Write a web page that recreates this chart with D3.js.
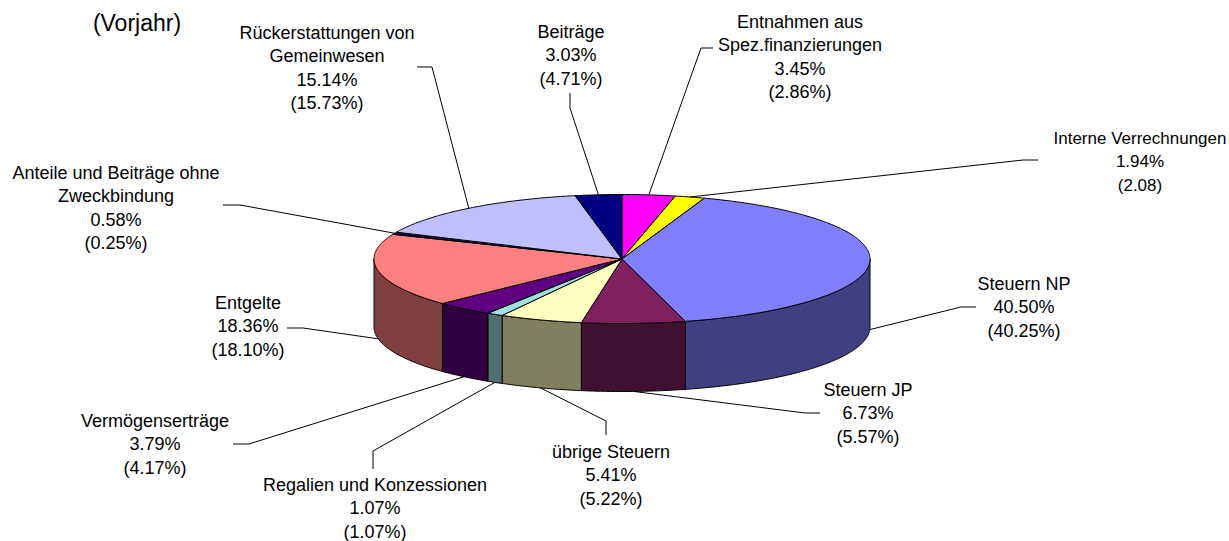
<!DOCTYPE html>
<html>
<head>
<meta charset="utf-8">
<script src="https://cdn.jsdelivr.net/npm/d3@7"></script>
<style>
body { margin: 0; background: #fff; }
svg text { font-family: "Liberation Sans", Arial, sans-serif; fill: #000; }
</style>
</head>
<body>
<svg id="chart"></svg>
<script>
let categories = ["Entnahmen aus\nSpez.finanzierungen", "Interne Verrechnungen", "Steuern NP", "Steuern JP", "übrige Steuern",
  "Regalien und Konzessionen", "Vermögenserträge", "Entgelte", "Anteile und Beiträge ohne\nZweckbindung",
  "Rückerstattungen von\nGemeinwesen", "Beiträge"]
let shares = [3.45, 1.94, 40.50, 6.73, 5.41, 1.07, 3.79, 18.36, 0.58, 15.14, 3.03]
let vorjahrLabels = ["(2.86%)", "(2.08)", "(40.25%)", "(5.57%)", "(5.22%)", "(1.07%)", "(4.17%)", "(18.10%)", "(0.25%)", "(15.73%)", "(4.71%)"]

let colors = ["#FF00FF", "#FFFF00", "#8080FF", "#802060", "#FFFFC0", "#A0E0E0", "#600080", "#FF8080", "#101050", "#C0C0FF", "#000080"]

// label centre x, first baseline y, and the two leader points next to the label
let labelLayout = [
  {x: 800, y: 28, pts: [[713, 48], [701, 48]]},
  {x: 1140, y: 144, size: 17, pts: [[1038, 160], [1023, 160]]},
  {x: 1024, y: 290, pts: [[976, 307], [961, 307]]},
  {x: 868, y: 396, pts: [[820, 413], [805, 413]]},
  {x: 611, y: 458, pts: [[606, 435], [606, 421]]},
  {x: 375, y: 491, pts: [[373, 469], [373, 451]]},
  {x: 155, y: 427, pts: [[233, 444], [249, 444]]},
  {x: 248, y: 309, pts: [[287, 328], [303, 328]]},
  {x: 116, y: 179, pts: [[223, 205], [240, 205]]},
  {x: 327, y: 39, pts: [[417, 67], [432, 67]]},
  {x: 571, y: 38, pts: [[570, 93], [570, 108]]}
]

let width = 1229
let height = 541
let cx = 622
let cy = 259
let rx = 248
let ry = 64.5
let depth = 68
let lineGap = 23.4

let svg = d3.select("#chart").attr("width", width).attr("height", height)

let proj = (a, h) => [cx + rx * Math.sin(a), cy - ry * Math.cos(a) + h]

let arcPoints = (a0, a1, h) => {
  let n = Math.max(2, Math.ceil(Math.abs(a1 - a0) / 0.01))
  return d3.range(n + 1).map(i => proj(a0 + (a1 - a0) * i / n, h))
}

let slices = d3.pie().sort(null).value(d => d)(shares)
let line = d3.line()

let darker = c => {
  let rgb = d3.rgb(c)
  return d3.rgb(rgb.r / 2, rgb.g / 2, rgb.b / 2).formatHex()
}

// sides: only the front half (pi/2 .. 3pi/2) is visible
let sides = svg.append("g")
slices.forEach((s, i) => {
  let b0 = Math.max(s.startAngle, Math.PI / 2)
  let b1 = Math.min(s.endAngle, Math.PI * 1.5)
  if (b1 <= b0) return
  let pts = arcPoints(b0, b1, 0).concat(arcPoints(b1, b0, depth))
  sides.append("path")
    .attr("d", line(pts) + "Z")
    .attr("fill", darker(colors[i]))
    .attr("stroke", "#000")
    .attr("stroke-width", 1)
    .attr("stroke-linejoin", "round")
})

let tops = svg.append("g")
tops.selectAll("path")
  .data(slices)
  .enter()
  .append("path")
  .attr("d", s => line([[cx, cy]].concat(arcPoints(s.startAngle, s.endAngle, 0))) + "Z")
  .attr("fill", (s, i) => colors[i])
  .attr("stroke", "#000")
  .attr("stroke-width", 1)
  .attr("stroke-linejoin", "round")

// leader lines
let leaders = svg.append("g")
slices.forEach((s, i) => {
  let mid = (s.startAngle + s.endAngle) / 2
  let anchor = proj(mid, Math.cos(mid) < 0 ? depth : 0)
  leaders.append("path")
    .attr("d", line(labelLayout[i].pts.concat([anchor])))
    .attr("fill", "none")
    .attr("stroke", "#000")
    .attr("stroke-width", 1)
})

let fmt = d3.format(".2f")
let labels = svg.append("g")
slices.forEach((s, i) => {
  let lines = categories[i].split("\n").concat([fmt(shares[i]) + "%", vorjahrLabels[i]])
  let t = labels.append("text")
    .attr("text-anchor", "middle")
    .attr("font-size", (labelLayout[i].size || 18) + "px")
  lines.forEach((l, j) => {
    t.append("tspan")
      .attr("x", labelLayout[i].x)
      .attr("y", labelLayout[i].y + j * lineGap)
      .text(l)
  })
})

svg.append("text")
  .attr("x", 137)
  .attr("y", 31)
  .attr("text-anchor", "middle")
  .attr("font-size", "23px")
  .text("(Vorjahr)")
</script>
</body>
</html>
